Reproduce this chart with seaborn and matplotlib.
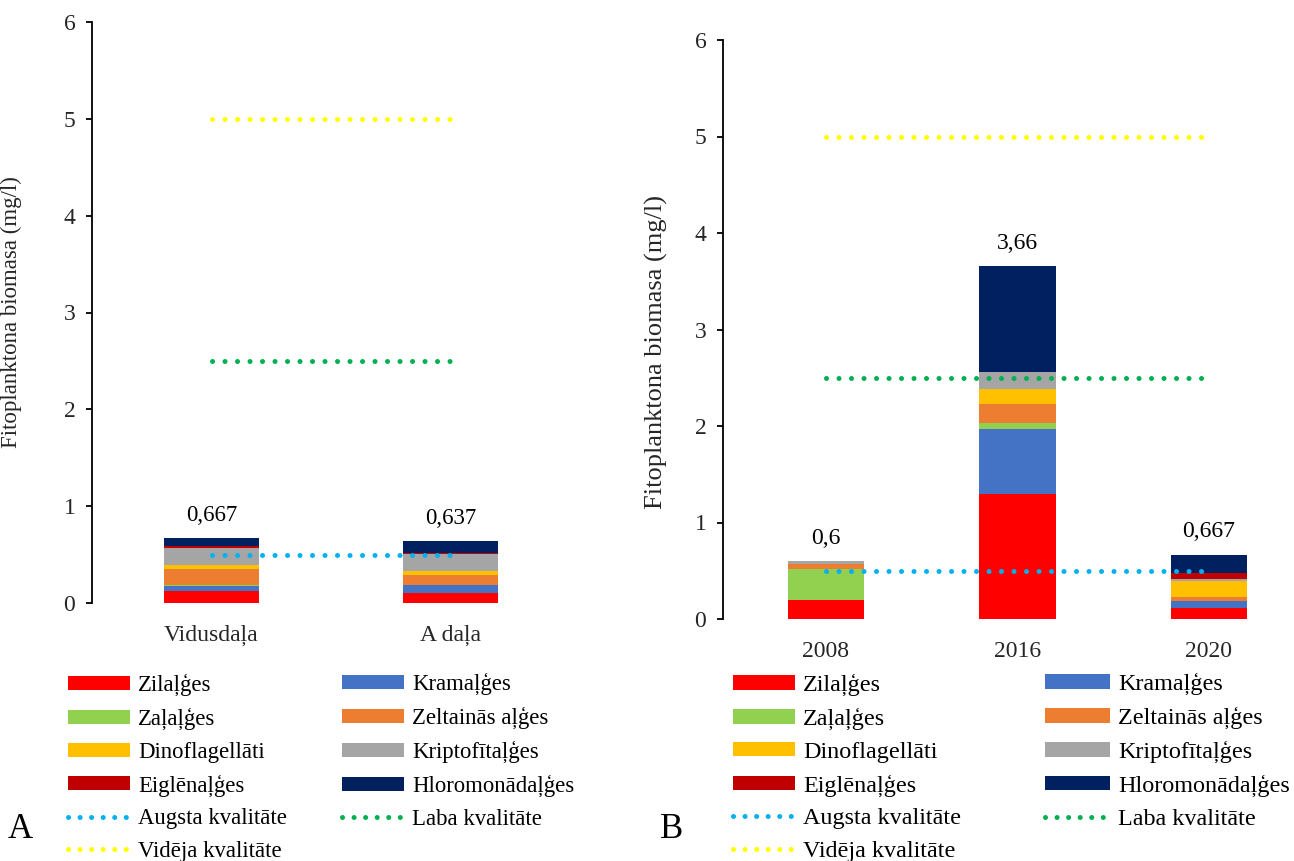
import numpy as np
import pandas as pd
import matplotlib
matplotlib.use("Agg")
import matplotlib.pyplot as plt
import seaborn as sns
from matplotlib.lines import Line2D
from matplotlib.patches import Patch

# ---------------- data ----------------
groups = ["Zilaļģes", "Kramaļģes", "Zaļaļģes", "Zeltainās aļģes",
          "Dinoflagellāti", "Kriptofītaļģes", "Eiglēnaļģes", "Hloromonādaļģes"]
group_colors = ["#FF0000", "#4472C4", "#92D050", "#ED7D31",
                "#FFC000", "#A5A5A5", "#C00000", "#002060"]

# Panel A
cats_a = ["Vidusdaļa", "A daļa"]
a_zilalges = [0.128, 0.103]
a_kramalges = [0.052, 0.079]
a_zalalges = [0.010, 0.0]
a_zeltainas = [0.163, 0.103]
a_dinoflag = [0.038, 0.041]
a_kripto = [0.180, 0.180]
a_eiglena = [0.017, 0.014]
a_hloromonad = [0.079, 0.117]
totals_a = [0.667, 0.637]

# Panel B
cats_b = ["2008", "2016", "2020"]
b_zilalges = [0.200, 1.300, 0.117]
b_kramalges = [0.0, 0.674, 0.066]
b_zalalges = [0.320, 0.055, 0.0]
b_zeltainas = [0.055, 0.197, 0.041]
b_dinoflag = [0.0, 0.159, 0.173]
b_kripto = [0.025, 0.173, 0.014]
b_eiglena = [0.0, 0.0, 0.062]
b_hloromonad = [0.0, 1.100, 0.194]
totals_b = [0.6, 3.66, 0.667]

quality_names = ["Augsta kvalitāte", "Laba kvalitāte", "Vidēja kvalitāte"]
quality_values = [0.5, 2.5, 5.0]
quality_colors = ["#00B0F0", "#00B050", "#FFFF00"]

y_ticks = [0, 1, 2, 3, 4, 5, 6]
y_label = "Fitoplanktona biomasa (mg/l)"

# ---------------- style ----------------
sns.set_theme(style="white")
plt.rcParams["font.family"] = ["Liberation Serif", "DejaVu Serif"]
plt.rcParams["text.color"] = "#000000"

DOT = (0, (0.01, 2.49))

fig = plt.figure(figsize=(12.94, 8.61), dpi=100)
W, H = 1294.0, 861.0

ax_a = fig.add_axes([92 / W, 1 - 603 / H, 478 / W, 581 / H])
ax_b = fig.add_axes([723 / W, 1 - 619 / H, 581.6 / W, 579 / H])


def draw_panel(ax, cats, series, totals, xlim, label_xy, fs_tick, fs_lab, fs_val):
    vals = np.array(series, dtype=float)
    cum = vals.cumsum(axis=0)
    for k in range(len(series) - 1, -1, -1):
        df = pd.DataFrame({"cat": cats, "val": cum[k]})
        sns.barplot(data=df, x="cat", y="val", order=cats, color=group_colors[k],
                    saturation=1, width=0.4, errorbar=None, ax=ax, linewidth=0)
    n = len(cats)
    for qv, qc in zip(quality_values, quality_colors):
        sns.lineplot(x=[0, n - 1], y=[qv, qv], color=qc, lw=3.6,
                     linestyle=DOT, dash_capstyle="round", ax=ax)
    for i, t in enumerate(totals):
        ax.annotate(f"{t:g}".replace(".", ","), (i, cum[-1][i]), xytext=(0, 9),
                    textcoords="offset points", ha="center", va="bottom",
                    fontsize=fs_val)
    ax.set_xlim(*xlim)
    ax.set_ylim(0, 6)
    ax.set_yticks(y_ticks)
    ax.set_yticklabels([str(v) for v in y_ticks], fontsize=fs_tick)
    ax.set_xticks(range(n))
    ax.set_xticklabels(cats, fontsize=fs_tick)
    ax.set_xlabel("")
    ax.set_ylabel(y_label, fontsize=fs_lab)
    ax.yaxis.set_label_coords(*label_xy)
    for s in ["top", "right", "bottom"]:
        ax.spines[s].set_visible(False)
    ax.spines["left"].set_color("black")
    ax.spines["left"].set_linewidth(1.3)
    ax.tick_params(axis="y", direction="out", length=4, width=1.3,
                   color="black", left=True, pad=8)
    ax.tick_params(axis="x", length=0, pad=16)
    ax.grid(False)
    ax.set_facecolor("none")


series_a = [a_zilalges, a_kramalges, a_zalalges, a_zeltainas,
            a_dinoflag, a_kripto, a_eiglena, a_hloromonad]
series_b = [b_zilalges, b_kramalges, b_zalalges, b_zeltainas,
            b_dinoflag, b_kripto, b_eiglena, b_hloromonad]

draw_panel(ax_a, cats_a, series_a, totals_a, (-0.5, 1.5), (-0.146, 0.5),
           17, 16.5, 16.5)
draw_panel(ax_b, cats_b, series_b, totals_b, (-0.537, 2.5), (-0.095, 0.462),
           17, 19, 17)

# ---------------- legends ----------------
patch_handles = [Patch(facecolor=c, edgecolor="none") for c in group_colors]
line_handles = [Line2D([0], [0], color=c, lw=3.6, linestyle=(0, (0.01, 2.3)),
                       dash_capstyle="round") for c in quality_colors]
handles = patch_handles + line_handles
labels = groups + quality_names
col1 = [0, 2, 4, 6, 8, 10]
col2 = [1, 3, 5, 7, 9]


def add_col(idx, x_px, y_center_px, fs, hl_px, spacing):
    fpx = fs * 100 / 72.0
    leg = fig.legend([handles[i] for i in idx], [labels[i] for i in idx],
                     loc="center left",
                     bbox_to_anchor=(x_px / W, 1 - y_center_px / H),
                     frameon=False, fontsize=fs, handlelength=hl_px / fpx,
                     handleheight=13 / fpx, handletextpad=8 / fpx,
                     labelspacing=spacing, borderpad=0, borderaxespad=0)
    return leg


rows = [685, 718, 751, 784, 818, 851]
add_col(col1, 68, np.mean(rows), 16.4, 62, 0.51)
add_col(col2, 342, np.mean(rows[:5]), 16.4, 62, 0.51)
add_col(col1, 733, np.mean(rows), 17.4, 62, 0.48)
add_col(col2, 1045, np.mean(rows[:5]), 17.4, 65, 0.48)

fig.text(20 / W, 1 - 830 / H, "A", fontsize=25, ha="center", va="center")
fig.text(672 / W, 1 - 830 / H, "B", fontsize=25, ha="center", va="center")

fig.savefig("out.png", dpi=100, facecolor="white")
